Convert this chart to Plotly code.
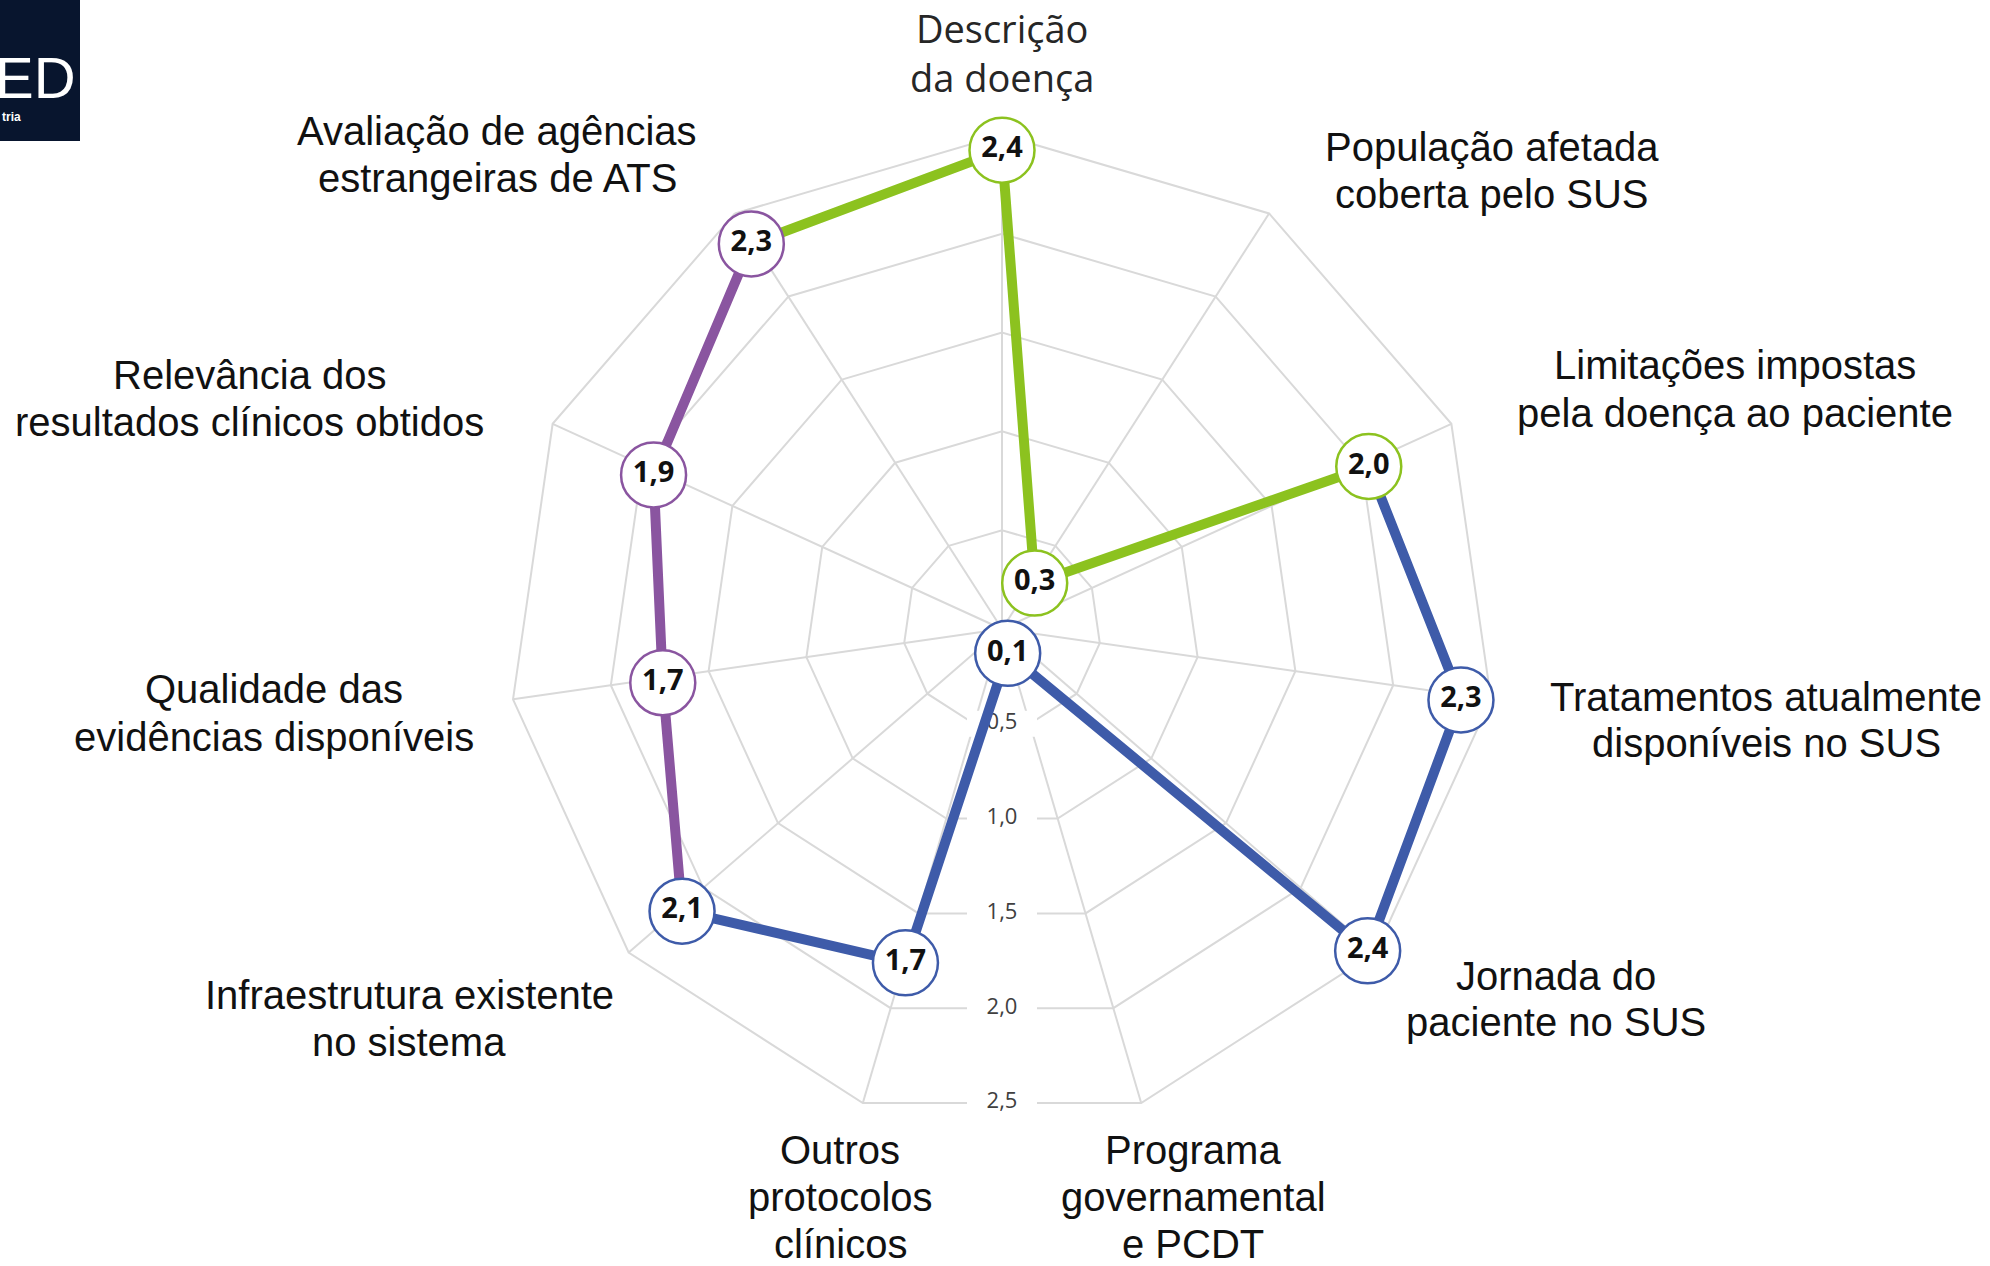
import math
import plotly.graph_objects as go

# ---------------- data ----------------
categories = [
    "Descrição da doença",
    "População afetada coberta pelo SUS",
    "Limitações impostas pela doença ao paciente",
    "Tratamentos atualmente disponíveis no SUS",
    "Jornada do paciente no SUS",
    "Programa governamental e PCDT",
    "Outros protocolos clínicos",
    "Infraestrutura existente no sistema",
    "Qualidade das evidências disponíveis",
    "Relevância dos resultados clínicos obtidos",
    "Avaliação de agências estrangeiras de ATS",
]
values = [2.4, 0.3, 2.0, 2.3, 2.4, 0.1, 1.7, 2.1, 1.7, 1.9, 2.3]
groups = ["verde", "verde", "verde", "azul", "azul", "azul", "azul", "azul", "roxo", "roxo", "roxo"]
label_lines = [
    ["Descrição<br>da doença"],
    ["População afetada", "coberta pelo SUS"],
    ["Limitações impostas", "pela doença ao paciente"],
    ["Tratamentos atualmente", "disponíveis no SUS"],
    ["Jornada do", "paciente no SUS"],
    ["Programa", "governamental", "e PCDT"],
    ["Outros", "protocolos", "clínicos"],
    ["Infraestrutura existente", "no sistema"],
    ["Qualidade das", "evidências disponíveis"],
    ["Relevância dos", "resultados clínicos obtidos"],
    ["Avaliação de agências", "estrangeiras de ATS"],
]
radial_ticks = [0.5, 1.0, 1.5, 2.0, 2.5]
radial_max = 2.5

# ---------------- styles / layout ----------------
W, H = 1990, 1266
group_colors = {"verde": "#8CC21F", "azul": "#3E5BA9", "roxo": "#8A55A0"}
grid_color = "#D9D9D9"


def make_domain(cx, cy, R):
    return dict(x=[(cx - R) / W, (cx + R) / W], y=[(H - cy - R) / H, (H - cy + R) / H])


grid_domain = make_domain(1002, 629, 494)   # grid polygons
data_domain = make_domain(1002, 634, 504)   # data series

# label block centres (px) and line gaps
label_pos = [(1002, 53), (1492, 170), (1735, 389), (1766, 720), (1556, 999),
             (1193, 1197), (840, 1197), (409, 1018), (274, 713), (250, 398), (497, 155)]
label_gap = [47] * 11
label_font = [dict(family="Open Sans", size=38, color="#262626")] + \
             [dict(family="Liberation Sans, Arial", size=40, color="#111111")] * 10


def fmt(v):
    return f"{v:.1f}".replace(".", ",")


n = len(categories)
fig = go.Figure()

# layer 1: grid polygon (invisible trace just to register categories)
fig.add_trace(go.Scatterpolar(r=values, theta=categories, mode="markers",
                              marker=dict(opacity=0), hoverinfo="skip",
                              showlegend=False, subplot="polar"))

# layer 2: radial tick labels, straight down, centred on polygon edges
edge_factor = math.cos(math.pi / n)
fig.add_trace(go.Scatterpolar(
    r=[t * edge_factor for t in radial_ticks], theta=[180] * len(radial_ticks),
    mode="markers+text",
    marker=dict(symbol="line-ew", size=50, line=dict(color="white", width=26)),
    text=[fmt(t) for t in radial_ticks], textposition="middle center",
    textfont=dict(family="Open Sans", size=22, color="#404040"),
    hoverinfo="skip", showlegend=False, cliponaxis=False, subplot="polar2"))

# layer 3: data lines, coloured per group
order = list(dict.fromkeys(groups))
for g in order:
    idx = [i for i in range(n) if groups[i] == g]
    seg = [(idx[0] - 1) % n] + idx
    fig.add_trace(go.Scatterpolar(
        r=[values[i] for i in seg], theta=[categories[i] for i in seg],
        mode="lines", line=dict(color=group_colors[g], width=10),
        hoverinfo="skip", showlegend=False, cliponaxis=False, subplot="polar3"))

fig.add_trace(go.Scatterpolar(
    r=values, theta=categories, mode="markers+text",
    marker=dict(size=65, color="white",
                line=dict(color=[group_colors[g] for g in groups], width=2.5)),
    text=[fmt(v) for v in values], textposition="middle center",
    textfont=dict(family="Open Sans", size=29, color="#111111", weight="bold"),
    showlegend=False, cliponaxis=False, subplot="polar3"))

# category labels
annotations = []
for lines, (px, py), gap, font in zip(label_lines, label_pos, label_gap, label_font):
    k = len(lines)
    for j, line in enumerate(lines):
        yline = py + (j - (k - 1) / 2) * gap
        annotations.append(dict(text=line, x=px / W, y=1 - yline / H, xref="paper", yref="paper",
                                xanchor="center", yanchor="middle", showarrow=False, font=font))

# logo fragment (top-left)
annotations.append(dict(text="ED", x=78 / W, y=1 - 78 / H, xref="paper", yref="paper",
                        xanchor="right", yanchor="middle", showarrow=False,
                        font=dict(family="Liberation Sans, Arial", size=58, color="white")))
annotations.append(dict(text="tria", x=23 / W, y=1 - 117 / H, xref="paper", yref="paper",
                        xanchor="right", yanchor="middle", showarrow=False,
                        font=dict(family="Liberation Sans, Arial", size=12, color="white", weight="bold")))

hidden_radial = dict(range=[0, radial_max], visible=False)
cat_axis = dict(type="category", categoryorder="array", categoryarray=categories,
                rotation=90, direction="clockwise")
fig.update_layout(
    width=W, height=H, autosize=False,
    margin=dict(l=0, r=0, t=0, b=0),
    paper_bgcolor="white", plot_bgcolor="white",
    showlegend=False,
    polar=dict(
        domain=grid_domain, bgcolor="white", gridshape="linear",
        angularaxis=dict(**cat_axis, showticklabels=False, ticks="", showgrid=True,
                         gridcolor=grid_color, gridwidth=2,
                         showline=True, linecolor=grid_color, linewidth=2),
        radialaxis=dict(range=[0, radial_max], tickvals=radial_ticks, showticklabels=False,
                        ticks="", showline=False, showgrid=True,
                        gridcolor=grid_color, gridwidth=2),
    ),
    polar2=dict(
        domain=grid_domain, bgcolor="rgba(0,0,0,0)",
        angularaxis=dict(rotation=90, direction="clockwise", visible=False),
        radialaxis=hidden_radial,
    ),
    polar3=dict(
        domain=data_domain, bgcolor="rgba(0,0,0,0)", gridshape="linear",
        angularaxis=dict(**cat_axis, visible=False),
        radialaxis=hidden_radial,
    ),
    shapes=[dict(type="rect", xref="paper", yref="paper", x0=0, x1=80 / W,
                 y0=1 - 141 / H, y1=1, fillcolor="#08152E", line=dict(width=0), layer="below")],
    annotations=annotations,
)

fig.write_html("out.html", config={"displayModeBar": False},
               post_script="document.body.style.margin='0';")
